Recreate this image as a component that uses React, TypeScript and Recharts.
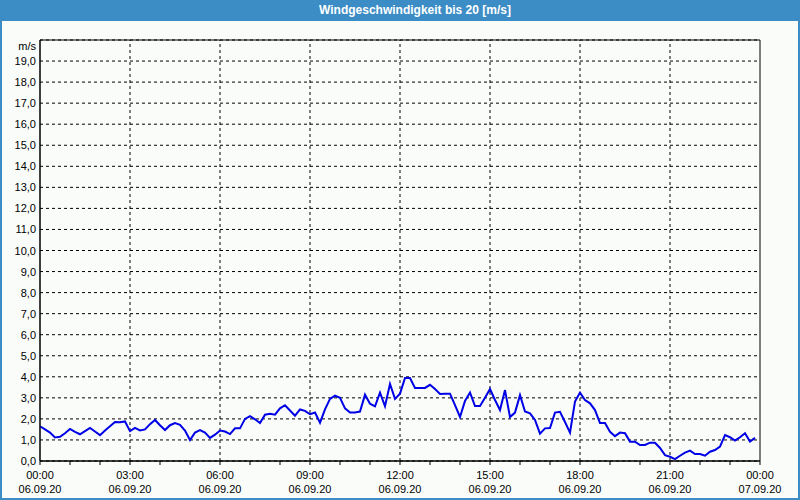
import React from "react";
import {
  LineChart,
  Line,
  XAxis,
  YAxis,
  CartesianGrid,
  ReferenceLine,
  ReferenceArea,
} from "recharts";

// wind speed in m/s, one value every 10 minutes from 00:00 to 23:50
const speeds = [
  1.65, 1.5, 1.35, 1.12, 1.15, 1.32, 1.52, 1.38, 1.27, 1.42, 1.57, 1.4,
  1.23, 1.45, 1.65, 1.85, 1.84, 1.88, 1.42, 1.57, 1.45, 1.5, 1.75, 1.95,
  1.7, 1.47, 1.7, 1.8, 1.72, 1.45, 1.0, 1.35, 1.47, 1.35, 1.1, 1.25,
  1.45, 1.4, 1.28, 1.55, 1.55, 2.0, 2.13, 1.98, 1.8, 2.2, 2.24, 2.2,
  2.5, 2.65, 2.4, 2.15, 2.45, 2.38, 2.22, 2.3, 1.82, 2.45, 2.95, 3.1,
  3.0, 2.5, 2.3, 2.3, 2.35, 3.15, 2.72, 2.6, 3.25, 2.6, 3.66, 2.95,
  3.2, 3.94, 3.94, 3.47, 3.47, 3.47, 3.62, 3.42, 3.18, 3.2, 3.2, 2.65,
  2.09, 2.85, 3.25, 2.61, 2.61, 3.0, 3.42, 2.9, 2.42, 3.37, 2.09, 2.3,
  3.13, 2.35, 2.26, 1.95, 1.3, 1.55, 1.57, 2.3, 2.34, 1.85, 1.35, 2.82,
  3.25, 2.9, 2.74, 2.42, 1.8, 1.8, 1.39, 1.18, 1.35, 1.32, 0.92, 0.92,
  0.76, 0.76, 0.87, 0.87, 0.62, 0.28, 0.2, 0.09, 0.25, 0.4, 0.49, 0.33,
  0.33, 0.25, 0.44, 0.52, 0.68, 1.23, 1.13, 0.97, 1.13, 1.32, 0.92, 1.1,
];

const hourTicks = Array.from({ length: 25 }, (_, h) => h * 60);
const gridMinutes = [180, 360, 540, 720, 900, 1080, 1260];
const timeLabels = ["00:00", "03:00", "06:00", "09:00", "12:00", "15:00", "18:00", "21:00", "00:00"];
const dateLabels = ["06.09.20", "06.09.20", "06.09.20", "06.09.20", "06.09.20", "06.09.20", "06.09.20", "06.09.20", "07.09.20"];
const yTicks = Array.from({ length: 20 }, (_, i) => i);

const data = speeds.map((v, i) => ({ t: i * 10, speed: v }));

const FONT = "'Liberation Sans', Arial, sans-serif";

const XTick = (props: any) => {
  const { x, y, payload } = props;
  if (payload.value % 180 !== 0) return <g />;
  const k = payload.value / 180;
  return (
    <g>
      <text x={x} y={y + 8} textAnchor="middle" dominantBaseline="central" fontSize={11} fontFamily={FONT} fill="#000">
        {timeLabels[k]}
      </text>
      <text x={x} y={y + 22} textAnchor="middle" dominantBaseline="central" fontSize={11} fontFamily={FONT} fill="#000">
        {dateLabels[k]}
      </text>
    </g>
  );
};

const YTick = (props: any) => {
  const { x, y, payload } = props;
  return (
    <text x={x} y={y} textAnchor="end" dominantBaseline="central" fontSize={11} fontFamily={FONT} fill="#000">
      {payload.value.toFixed(1).replace(".", ",")}
    </text>
  );
};

export default function App() {
  return (
    <div style={{ position: "absolute", left: 0, top: 0, width: 800, height: 500, background: "#3c8dc5" }}>
      <div
        style={{
          position: "absolute",
          left: 0,
          top: 0,
          width: 830,
          height: 21,
          lineHeight: "21px",
          textAlign: "center",
          color: "#fff",
          fontFamily: FONT,
          fontWeight: "bold",
          fontSize: 12,
        }}
      >
        Windgeschwindigkeit bis 20 [m/s]
      </div>
      <div style={{ position: "absolute", left: 2, top: 21, width: 796, height: 477, background: "#fafcfa" }} />
      <div style={{ position: "absolute", left: 0, top: 0 }}>
        <LineChart width={800} height={500} data={data} margin={{ top: 40, right: 40, bottom: 0, left: 0 }}>
          <CartesianGrid vertical={false} stroke="#000" strokeDasharray="3 3" />
          {gridMinutes.map((m) => (
            <ReferenceLine key={m} x={m} stroke="#000" strokeDasharray="3 3" />
          ))}
          <XAxis
            dataKey="t"
            type="number"
            domain={[0, 1440]}
            ticks={hourTicks}
            interval={0}
            height={39}
            tickSize={4}
            tickMargin={2}
            stroke="#000"
            tickLine={{ stroke: "#000" }}
            tick={<XTick />}
          />
          <YAxis
            type="number"
            domain={[0, 20]}
            ticks={yTicks}
            interval={0}
            width={40}
            tickSize={4}
            tickMargin={0}
            tickLine={false}
            stroke="#000"
            tick={<YTick />}
          />
          <ReferenceArea x1={0} x2={1440} y1={0} y2={20} fill="none" stroke="#000" strokeWidth={1} />
          <Line
            type="linear"
            dataKey="speed"
            stroke="#0000e6"
            strokeWidth={2}
            dot={false}
            isAnimationActive={false}
          />
          <text x={36} y={46} textAnchor="end" dominantBaseline="central" fontSize={11} fontFamily={FONT} fill="#000">
            m/s
          </text>
        </LineChart>
      </div>
    </div>
  );
}
